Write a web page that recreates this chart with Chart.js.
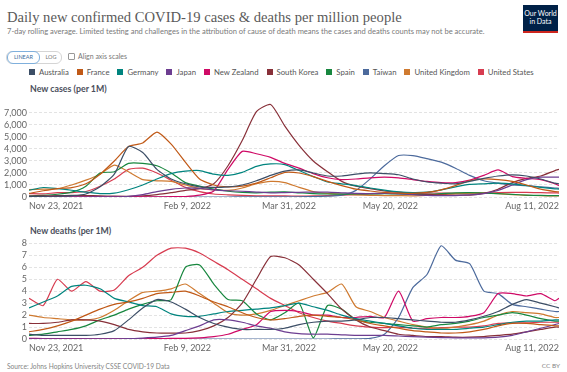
<!DOCTYPE html>
<html><head><meta charset="utf-8">
<script src="https://cdn.jsdelivr.net/npm/chart.js@4"></script>
<style>
body{margin:0;width:567px;height:372px;background:#fff;position:relative;overflow:hidden;font-family:Lato,"Noto Sans",sans-serif;}
.t{position:absolute;white-space:nowrap;line-height:1;transform:translateY(-50%);}
#title{left:7px;top:17px;font-family:"Liberation Serif","DejaVu Serif",serif;font-size:19px;color:#5a5a5a;}
#sub{left:7px;top:32px;font-size:8px;color:#7a7a7a;}
#ptitle1{left:30px;top:89px;font-size:9.5px;font-weight:bold;color:#4b4f5c;}
#ptitle2{left:30px;top:231px;font-size:9.5px;font-weight:bold;color:#4b4f5c;}
#src{left:7px;top:366px;font-size:6.5px;color:#858585;}
#cc{right:7px;top:366px;font-size:6.5px;color:#858585;}
#logo{position:absolute;left:523px;top:5px;width:35px;background:#002147;border-bottom:2px solid #ce261e;color:#fff;font-size:7px;line-height:8px;text-align:center;padding-top:4px;box-sizing:content-box;height:22px;}
#btns{position:absolute;left:6px;top:51px;height:11px;width:54px;border:1px solid #d5d5d5;border-radius:6px;}
#lin{position:absolute;left:0;top:-1px;width:31px;height:11px;border:1px solid #7fb0dd;border-radius:6px;font-size:5.5px;color:#3d6e9e;text-align:center;line-height:11px;background:#fff;}
#log{position:absolute;left:35px;top:0;width:18px;height:11px;font-size:5.5px;color:#777;text-align:center;line-height:11px;}
#chk{position:absolute;left:68px;top:53px;width:5px;height:5px;border:1px solid #999;border-radius:1px;}
#align{left:78px;top:56px;font-size:7px;color:#777;}
#legend{position:absolute;left:29px;top:67px;height:10px;display:flex;align-items:center;font-size:8px;color:#555;}
#legend .it{display:flex;align-items:center;margin-right:8px;white-space:nowrap;}
#legend .sw{width:6px;height:6px;margin-right:4px;}
canvas{position:absolute;left:0;}
#c1{top:95px;}
#c2{top:236px;}
</style></head><body>
<div id="title" class="t">Daily new confirmed COVID-19 cases &amp; deaths per million people</div>
<div id="sub" class="t">7-day rolling average. Limited testing and challenges in the attribution of cause of death means the cases and deaths counts may not be accurate.</div>
<div id="logo">Our World<br>in Data</div>
<div id="btns"><div id="lin">LINEAR</div><div id="log">LOG</div></div>
<div id="chk"></div>
<div id="align" class="t">Align axis scales</div>
<div id="legend"></div>
<div id="ptitle1" class="t">New cases (per 1M)</div>
<div id="ptitle2" class="t">New deaths (per 1M)</div>
<canvas id="c1" width="567" height="120"></canvas>
<canvas id="c2" width="567" height="121"></canvas>
<div id="src" class="t">Source: Johns Hopkins University CSSE COVID-19 Data</div>
<div id="cc" class="t">CC BY</div>
<script>
// ---- data ----
const days = [0,7,14,21,28,35,42,49,56,63,70,77,84,91,98,105,112,119,126,133,140,147,154,161,168,175,182,189,196,203,210,217,224,231,238,245,252,259,261];
const tickDays = [0,78,128,178,261];
const tickLabels = ['Nov 23, 2021','Feb 9, 2022','Mar 31, 2022','May 20, 2022','Aug 11, 2022'];
const caseTicks = [0,1000,2000,3000,4000,5000,6000,7000];
const deathTicks = [0,1,2,3,4,5,6,7,8];
const countries = ['Australia','France','Germany','Japan','New Zealand','South Korea','Spain','Taiwan','United Kingdom','United States'];

const casesAustralia = [50,60,70,110,250,850,1900,4200,3700,2300,1500,1100,850,800,850,1000,1350,1800,2150,2250,2000,1750,1750,1900,2000,1950,1850,1500,1250,1150,1100,1300,1550,1750,1850,1750,1500,1150,1100];
const casesFrance = [300,520,700,780,1100,1900,3000,4200,4500,5400,4400,2900,1500,1000,850,900,1150,1600,2050,2000,1700,1300,950,650,500,380,320,300,380,600,950,1350,1500,1450,1300,1000,650,450,420];
const casesGermany = [560,790,700,560,400,280,320,600,1000,1500,1950,2150,2200,1900,1800,2050,2550,2750,2700,2200,1700,1250,1100,950,750,580,430,360,400,600,850,1050,1100,1150,1100,950,800,680,650];
const casesJapan = [1,1,1,2,2,3,6,50,200,450,640,750,720,590,520,480,410,350,370,390,410,400,350,300,290,320,260,200,140,120,120,170,280,550,1000,1450,1650,1650,1650];
const casesNewZealand = [35,30,20,15,15,10,15,20,15,15,25,40,150,500,2300,3800,3600,3300,2800,2400,1950,1600,1450,1500,1600,1650,1600,1450,1300,1200,1200,1400,1800,2250,1700,1550,1450,1100,950];
const casesSouthKorea = [70,90,120,130,120,95,70,60,100,200,360,550,700,1100,2600,4700,7100,7700,5900,4300,3000,2100,1300,900,700,500,400,300,230,170,150,160,300,650,1200,1550,1750,2200,2300];
const casesSpain = [80,140,230,400,900,2000,2100,2800,2800,2600,2000,1200,900,650,480,380,350,400,420,350,280,250,240,250,260,270,250,220,220,280,340,360,330,280,220,160,130,110,110];
const casesTaiwan = [0,0,0,0,0,0,0,0,0,0,1,1,1,1,2,3,5,8,12,20,35,70,150,550,1500,2600,3450,3450,3200,2900,2400,1800,1350,1150,1000,950,850,750,720];
const casesUnitedKingdom = [620,650,700,1000,1400,1900,2650,2100,1450,1350,1300,1000,700,600,550,750,1100,1300,1200,800,450,300,250,180,140,120,110,100,140,190,280,330,340,280,200,140,110,90,90];
const casesUnitedStates = [280,260,360,370,460,900,1500,2300,2400,2000,1400,800,450,250,180,130,100,90,90,80,90,120,160,200,250,310,330,310,330,330,310,320,320,370,380,380,360,340,330];

const deathsAustralia = [0.4,0.3,0.3,0.3,0.3,0.4,0.7,1.6,2.6,3.3,3.1,2.5,1.8,1.3,1.0,0.8,0.8,0.8,0.9,1.2,1.4,1.5,1.5,1.6,1.8,1.8,1.7,1.6,1.5,1.4,1.4,1.6,1.9,2.3,2.9,3.3,3.0,2.7,2.6];
const deathsFrance = [0.6,0.8,1.1,1.5,2.0,2.5,2.9,3.1,3.4,3.8,3.9,4.0,3.6,3.1,2.7,2.2,1.8,1.6,1.7,1.9,2.0,1.9,1.8,1.6,1.3,1.1,0.9,0.7,0.6,0.5,0.5,0.6,0.8,1.1,1.3,1.3,1.2,1.1,1.1];
const deathsGermany = [2.6,3.1,3.6,4.4,4.5,4.2,3.4,3.1,2.8,2.7,2.1,1.9,1.9,2.1,2.3,2.4,2.5,2.6,2.8,3.0,2.7,2.4,2.0,1.7,1.5,1.3,1.1,0.9,0.8,0.8,0.8,0.9,1.0,1.2,1.4,1.5,1.5,1.6,1.6];
const deathsJapan = [0.02,0.01,0.01,0.01,0.01,0.01,0.02,0.03,0.08,0.15,0.3,0.7,1.1,1.6,1.6,1.4,1.1,0.9,0.6,0.45,0.4,0.4,0.35,0.3,0.3,0.3,0.25,0.2,0.15,0.12,0.1,0.1,0.1,0.15,0.3,0.6,0.9,1.2,1.3];
const deathsNewZealand = [0.05,0.04,0.03,0.03,0.02,0.02,0.02,0.02,0.02,0.03,0.05,0.05,0.1,0.2,0.4,0.8,1.2,2.3,2.4,2.3,2.0,2.0,1.8,1.8,1.9,1.8,4.0,1.5,1.7,1.8,1.8,1.9,2.2,3.8,3.8,3.6,3.8,3.2,3.4];
const deathsSouthKorea = [1.3,1.3,1.4,1.6,1.6,1.5,1.2,0.8,0.6,0.5,0.5,0.5,0.7,1.1,1.8,3.0,5.0,6.9,6.8,6.2,5.0,3.8,2.5,1.6,1.0,0.7,0.4,0.3,0.2,0.2,0.15,0.15,0.2,0.3,0.4,0.6,0.8,1.0,1.0];
const deathsSpain = [0.3,0.4,0.6,0.8,1.1,1.6,2.0,2.5,2.9,3.2,3.3,6.0,6.2,4.6,3.3,3.2,2.1,1.6,2.2,3.0,0.1,2.8,2.5,1.6,1.4,1.3,1.2,1.1,1.0,1.2,1.3,1.5,1.8,2.0,2.2,2.0,1.7,1.5,1.5];
const deathsTaiwan = [0,0,0,0,0,0,0,0,0,0,0,0,0,0,0,0,0,0,0,0,0,0,0.01,0.02,0.05,0.4,1.8,4.3,5.4,7.8,6.6,6.3,4.0,3.8,2.9,2.7,2.5,2.3,2.3];
const deathsUnitedKingdom = [2.0,1.8,1.7,1.6,1.6,1.8,2.4,3.2,3.9,4.0,4.2,4.6,3.8,3.0,2.2,2.0,2.1,2.4,2.8,3.2,3.6,3.9,4.6,2.7,2.3,1.8,1.5,1.2,1.0,0.9,1.0,1.2,1.5,2.0,2.3,2.2,2.1,1.8,1.8];
const deathsUnitedStates = [3.4,2.8,5.0,4.0,4.8,4.0,4.1,5.3,6.0,7.0,7.6,7.6,7.2,6.5,5.8,5.0,4.2,3.4,2.8,2.2,1.8,1.5,1.3,1.1,1.0,0.95,1.0,0.9,0.9,0.95,1.0,1.0,1.1,1.3,1.35,1.35,1.4,1.4,1.4];

const casesSeries = [casesAustralia,casesFrance,casesGermany,casesJapan,casesNewZealand,casesSouthKorea,casesSpain,casesTaiwan,casesUnitedKingdom,casesUnitedStates];
const deathsSeries = [deathsAustralia,deathsFrance,deathsGermany,deathsJapan,deathsNewZealand,deathsSouthKorea,deathsSpain,deathsTaiwan,deathsUnitedKingdom,deathsUnitedStates];
const colors = ['#3C4E66','#C05917','#00847E','#6D3E91','#CF0A66','#883039','#18873F','#4C6A9C','#CF7A30','#D73C50'];

// legend
const lg = document.getElementById('legend');
countries.forEach((c,i)=>{
  const it = document.createElement('div'); it.className='it';
  it.innerHTML = '<div class="sw" style="background:'+colors[i]+'"></div><span>'+c+'</span>';
  lg.appendChild(it);
});
function fit(id, w){ const el=document.getElementById(id); const fs=parseFloat(getComputedStyle(el).fontSize); el.style.fontSize=(fs*w/el.offsetWidth)+'px'; }
fit('title',395); fit('sub',478); fit('legend',507); fit('ptitle1',77); fit('ptitle2',81); fit('src',163);

function makeChart(id, series, yMax, yTicks, padTop){
  return new Chart(document.getElementById(id), {
    type:'line',
    data:{datasets: countries.map((c,i)=>({
      label:c,
      data: days.map((d,j)=>({x:d, y:series[i][j]})),
      borderColor: colors[i], borderWidth:1.2, pointRadius:0, tension:0.2, fill:false
    }))},
    options:{
      responsive:false, animation:false, devicePixelRatio:1, events:[],
      layout:{padding:{left:0,right:8,top:padTop,bottom:0}},
      plugins:{legend:{display:false}, tooltip:{enabled:false}},
      scales:{
        x:{type:'linear', min:0, max:261,
           grid:{display:false, drawTicks:false}, border:{display:false},
           afterBuildTicks:s=>{s.ticks=tickDays.map(v=>({value:v}));},
           afterFit:s=>{s.height=18;},
           ticks:{autoSkip:false, maxRotation:0, minRotation:0, align:'inner', padding:4, color:'#666',
                  font:{family:'Lato', size:9}, callback:v=>tickLabels[tickDays.indexOf(v)]}},
        y:{min:0, max:yMax,
           afterBuildTicks:s=>{s.ticks=yTicks.map(v=>({value:v}));},
           afterFit:s=>{s.width=29;},
           grid:{color:'#e3e3e3', drawTicks:false}, border:{display:false, dash:[3,2]},
           ticks:{autoSkip:false, padding:2, color:'#666', font:{family:'Lato', size:9}, callback:v=>v.toLocaleString('en-US')}}
      }
    }
  });
}
makeChart('c1', casesSeries, 7875, caseTicks, 3);
makeChart('c2', deathsSeries, 8, deathTicks, 6);
</script>
</body></html>
